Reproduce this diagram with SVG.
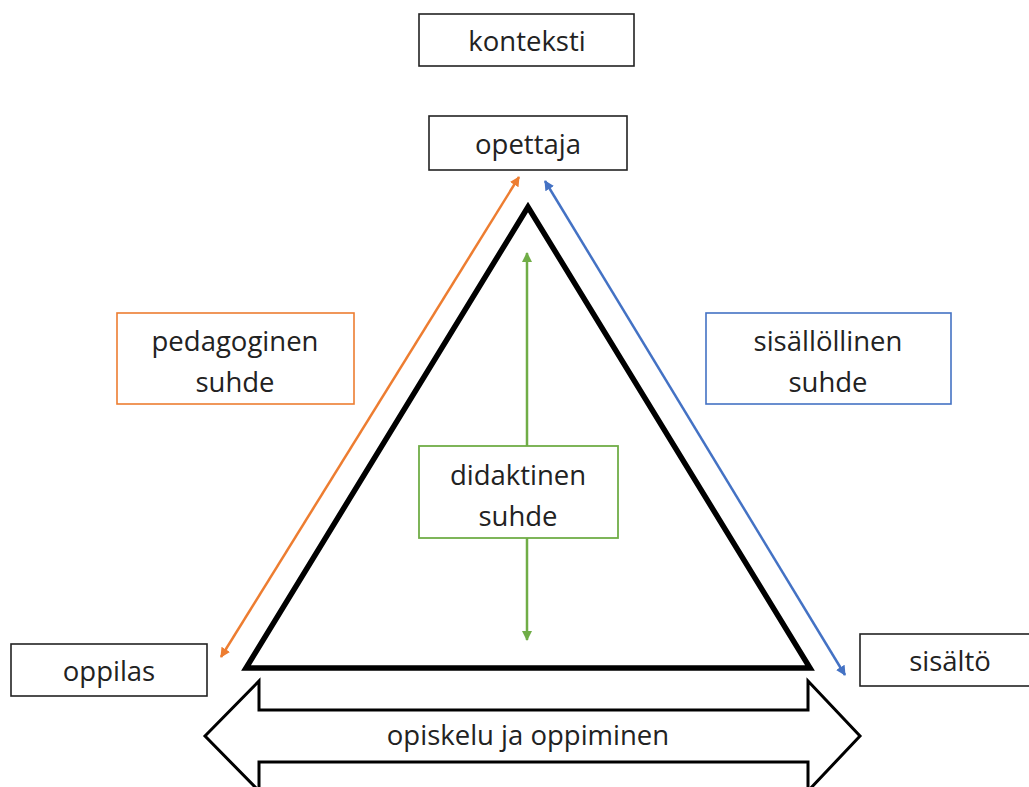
<svg xmlns="http://www.w3.org/2000/svg" width="1029" height="787" viewBox="0 0 1029 787">
<style>
text{font-family:"Open Sans","Noto Sans","Liberation Sans",sans-serif;font-size:27.5px;fill:#222;text-anchor:middle;dominant-baseline:central}
.box{fill:#fff;stroke:#222;stroke-width:1.6}
.ob{fill:#fff;stroke:#ED7D31;stroke-width:1.6}
.bb{fill:#fff;stroke:#4472C4;stroke-width:1.6}
.gb{fill:#fff;stroke:#70AD47;stroke-width:1.8}
</style>
<defs>
<marker id="ao" viewBox="0 0 10 10" refX="9" refY="5" markerWidth="4" markerHeight="4" orient="auto-start-reverse" markerUnits="strokeWidth"><path d="M0,0 L10,5 L0,10 Z" fill="#ED7D31"/></marker>
<marker id="ab" viewBox="0 0 10 10" refX="9" refY="5" markerWidth="4" markerHeight="4" orient="auto-start-reverse" markerUnits="strokeWidth"><path d="M0,0 L10,5 L0,10 Z" fill="#4472C4"/></marker>
<marker id="ag" viewBox="0 0 10 10" refX="9" refY="5" markerWidth="4" markerHeight="4" orient="auto-start-reverse" markerUnits="strokeWidth"><path d="M0,0 L10,5 L0,10 Z" fill="#70AD47"/></marker>
</defs>
<rect width="1029" height="787" fill="#fff"/>
<g id="triangle"><polygon points="528,207 246,668 810,668" fill="none" stroke="#000" stroke-width="5.5" stroke-linejoin="miter"/></g>
<g id="connectors">
<line x1="221" y1="657" x2="519" y2="177" stroke="#ED7D31" stroke-width="2.5" marker-start="url(#ao)" marker-end="url(#ao)"/>
<line x1="545" y1="181" x2="845" y2="675" stroke="#4472C4" stroke-width="2.5" marker-start="url(#ab)" marker-end="url(#ab)"/>
<line x1="527" y1="253" x2="527" y2="640" stroke="#70AD47" stroke-width="2.5" marker-start="url(#ag)" marker-end="url(#ag)"/>
</g>
<g id="konteksti"><rect class="box" x="419" y="14" width="215" height="52"/><text x="527" y="40">konteksti</text></g>
<g id="opettaja"><rect class="box" x="429" y="116" width="198" height="54"/><text x="528" y="143">opettaja</text></g>
<g id="pedagoginen"><rect class="ob" x="117" y="313" width="237" height="91"/><text x="235" y="340">pedagoginen</text><text x="235" y="381">suhde</text></g>
<g id="sisallollinen"><rect class="bb" x="706" y="313" width="245" height="91"/><text x="828" y="340">sisällöllinen</text><text x="828" y="381">suhde</text></g>
<g id="didaktinen"><rect class="gb" x="419" y="446" width="199" height="92"/><text x="518" y="474">didaktinen</text><text x="518" y="515">suhde</text></g>
<g id="oppilas"><rect class="box" x="11" y="644" width="196" height="52"/><text x="109" y="670">oppilas</text></g>
<g id="sisalto"><rect class="box" x="860" y="634" width="190" height="52"/><text x="950" y="660">sisältö</text></g>
<g id="opiskelu"><polygon points="205,736 259,681 259,710 808,710 808,681 860,736 808,791 808,762 259,762 259,791" fill="#fff" stroke="#000" stroke-width="3"/><text x="528" y="734">opiskelu ja oppiminen</text></g>
</svg>
